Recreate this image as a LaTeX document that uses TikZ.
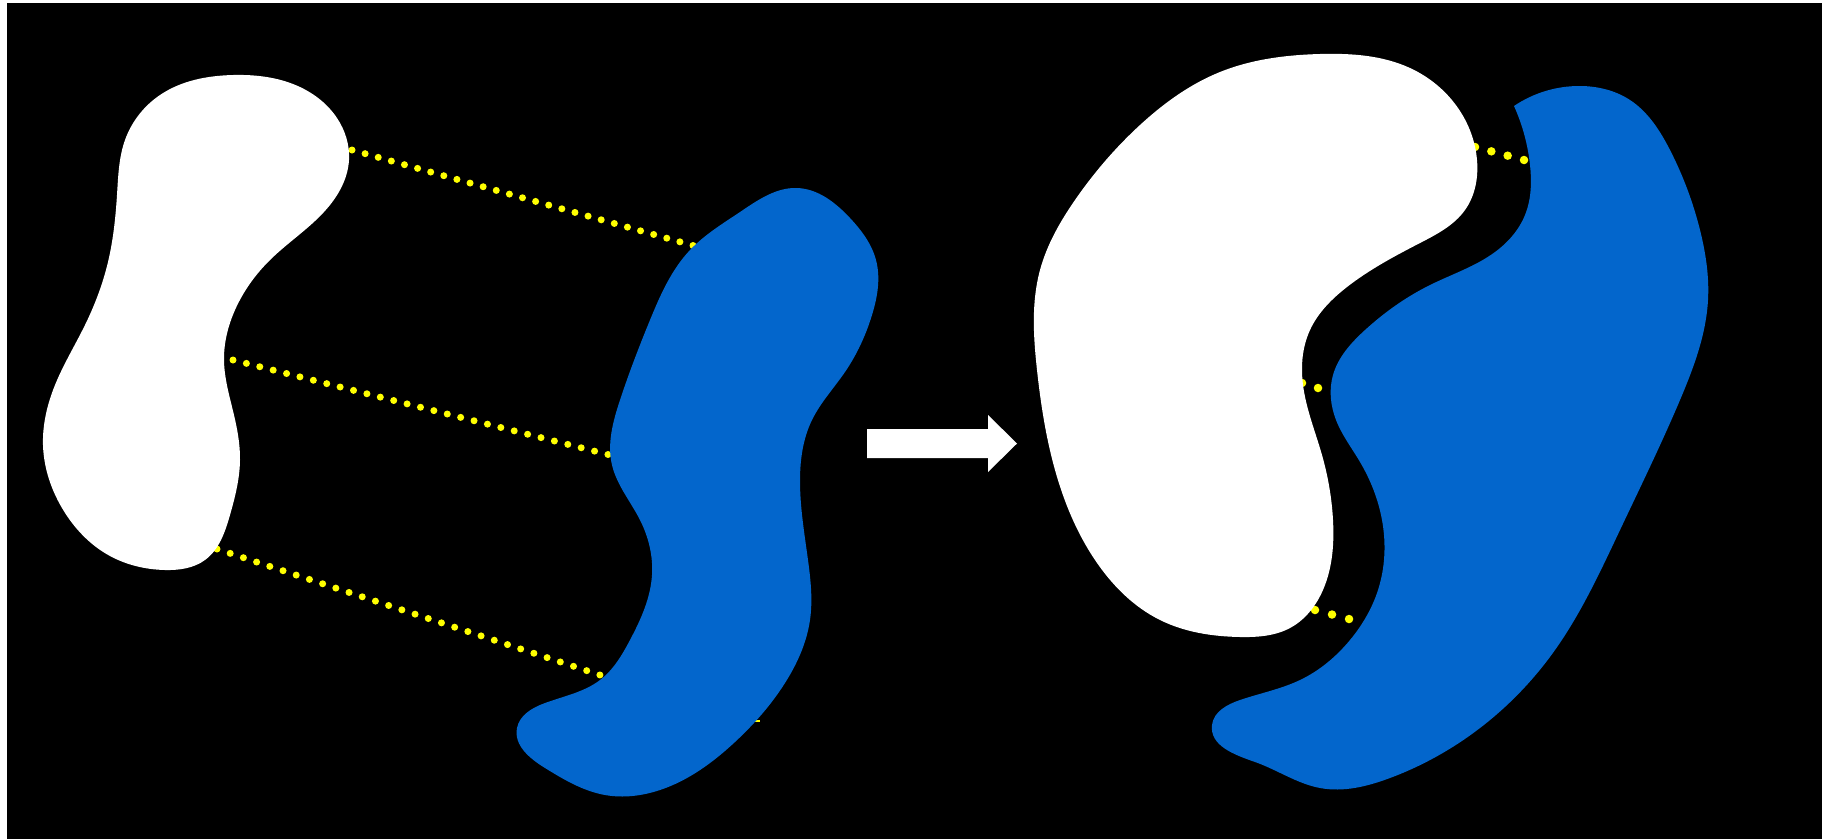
\documentclass[tikz,border=0pt]{standalone}
\usetikzlibrary{hobby}
\definecolor{blobblue}{RGB}{3,102,204}
\definecolor{dotyellow}{RGB}{255,255,0}
\tikzset{
  whiteblob/.style={fill=white},
  blueblob/.style={fill=blobblue},
  ldots/.style={draw=dotyellow, line width=7pt, line cap=round, dash pattern={on 0pt off #1}, shorten >=-2pt},
  rdots/.style={draw=dotyellow, line width=8.5pt, line cap=round, dash pattern={on 0pt off #1}, shorten >=-2pt},
  bigarrow/.style={fill=white}
}
\begin{document}
\begin{tikzpicture}[x=1pt,y=-1pt]
\useasboundingbox (0,0) rectangle (1822,839);
\fill[white] (0,0) rectangle (1822,839);
\fill[black] (7,3) rectangle (1822,839);

% line end points
\coordinate (l1a) at (352,150);  \coordinate (l1b) at (693,245.5);
\coordinate (l2a) at (233,360);  \coordinate (l2b) at (608,454.5);
\coordinate (l3a) at (217,549);  \coordinate (l3b) at (600,675);
\coordinate (r1a) at (1475,147); \coordinate (r1b) at (1524,160);
\coordinate (r2a) at (1302,383); \coordinate (r2b) at (1318,388);
\coordinate (r3a) at (1315,610); \coordinate (r3b) at (1349,619);
\coordinate (m1) at (755,721);   \coordinate (m2) at (760,721);

% dotted lines (behind blobs)
\draw[ldots=13.62pt] (l1a) -- (l1b);
\draw[ldots=13.81pt] (l2a) -- (l2b);
\draw[ldots=13.90pt] (l3a) -- (l3b);
\draw[rdots=16.9pt] (r1a) -- (r1b);
\draw[rdots=16.76pt] (r2a) -- (r2b);
\draw[rdots=17.6pt] (r3a) -- (r3b);
\draw[dotyellow, line width=1.2pt] (m1) -- (m2);

% left white blob
\fill[whiteblob, use Hobby shortcut, closed=true]
(233,75) .. (300,87) .. (337,118) .. (349,160) .. (330,205) .. (270,260) .. (235,310)
.. (224,360) .. (234,415) .. (240,460) .. (230,515) .. (205,560) .. (165,570)
.. (110,556) .. (62,508) .. (43,445) .. (55,385) .. (85,325) .. (108,262)
.. (117,195) .. (125,140) .. (160,95);

% left blue blob
\fill[blueblob, use Hobby shortcut, closed=true]
(797,188) .. (850,218) .. (876,260) .. (872,315) .. (845,372) .. (812,420) .. (800,480)
.. (808,560) .. (810,620) .. (785,683) .. (735,742) .. (660,790) .. (605,795)
.. (545,768) .. (517,728) .. (545,703) .. (600,680) .. (630,640) .. (652,575)
.. (640,520) .. (612,465) .. (620,400) .. (650,320) .. (690,250) .. (740,212);

% arrow
\fill[bigarrow] (867,429) -- (988,429) -- (988,415) -- (1017,443.5) -- (988,472) -- (988,458) -- (867,458) -- cycle;

% right white blob
\fill[whiteblob, use Hobby shortcut, closed=true]
(1320,54) .. (1410,68) .. (1458,108) .. (1477,160) .. (1465,210) .. (1420,243)
.. (1347,287) .. (1310,330) .. (1303,385) .. (1322,455) .. (1333,520) .. (1325,585)
.. (1290,628) .. (1240,637) .. (1160,620) .. (1095,560) .. (1055,470) .. (1037,370)
.. (1040,270) .. (1075,200) .. (1140,125) .. (1220,72);

% right blue blob
\fill[blueblob, use Hobby shortcut]
(1514,106) .. (1580,86) .. (1630,100) .. (1670,150) .. (1700,230) .. (1708,300)
.. (1680,400) .. (1620,530) .. (1555,650) .. (1480,728) .. (1390,778) .. (1320,788)
.. (1255,762) .. (1212,725) .. (1240,700) .. (1300,680) .. (1350,640) .. (1378,590)
.. (1382,520) .. (1360,462) .. (1336,420) .. (1333,375) .. (1365,330) .. (1430,285)
.. (1495,252) .. (1525,215) .. (1530,165) .. (1514,106) -- cycle;
\end{tikzpicture}
\end{document}
